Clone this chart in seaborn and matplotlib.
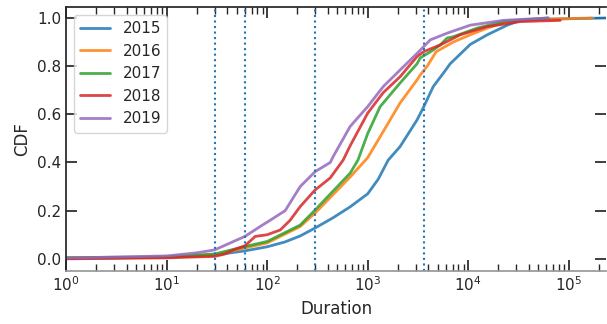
import numpy as np
import pandas as pd
import seaborn as sns
import matplotlib.pyplot as plt
from matplotlib.ticker import LogLocator, NullFormatter

# CDF points (duration, cumulative fraction)
years = ['2015', '2016', '2017', '2018', '2019']

dur_2015 = [1, 3, 10, 20, 30, 60, 100, 150, 213, 300, 450, 670, 1000, 1270, 1600, 2100,
            3100, 3600, 4485, 5640, 6620, 10470, 15450, 24400, 32900, 62500, 241000]
cdf_2015 = [0.002, 0.004, 0.007, 0.012, 0.016, 0.033, 0.05, 0.07, 0.095, 0.128, 0.17, 0.216,
            0.27, 0.33, 0.41, 0.466, 0.577, 0.63, 0.715, 0.77, 0.81, 0.89, 0.93, 0.97, 0.99,
            0.995, 1.0]

dur_2016 = [1, 10, 30, 60, 100, 213, 300, 670, 1000, 1330, 2100, 3100, 3330, 3910, 4800,
            7100, 10470, 15450, 24400, 60000, 171000]
cdf_2016 = [0.003, 0.006, 0.015, 0.045, 0.066, 0.134, 0.19, 0.34, 0.42, 0.507, 0.647, 0.743,
            0.763, 0.8, 0.86, 0.9, 0.93, 0.958, 0.985, 0.995, 1.0]

dur_2017 = [1, 10, 20, 30, 60, 100, 213, 300, 670, 800, 1000, 1330, 2100, 3100, 3330, 4485,
            5265, 6180, 7100, 12300, 22300, 62500]
cdf_2017 = [0.005, 0.008, 0.016, 0.02, 0.051, 0.072, 0.14, 0.203, 0.356, 0.41, 0.52, 0.632,
            0.73, 0.81, 0.834, 0.867, 0.888, 0.917, 0.922, 0.958, 0.985, 1.0]

dur_2018 = [1, 10, 20, 30, 38, 46, 60, 76, 100, 135, 169, 213, 300, 424, 570, 670, 1000,
            1427, 2100, 3100, 3600, 5265, 8320, 15450, 32900, 82300]
cdf_2018 = [0.0, 0.004, 0.008, 0.01, 0.02, 0.037, 0.054, 0.093, 0.1, 0.12, 0.16, 0.217, 0.286,
            0.336, 0.41, 0.47, 0.605, 0.69, 0.756, 0.84, 0.86, 0.888, 0.93, 0.964, 0.985, 0.99]

dur_2019 = [1, 10, 20, 30, 60, 85, 107, 151, 213, 300, 424, 454, 670, 1000, 1427, 2100, 3100,
            3910, 4190, 6180, 10470, 22300, 62500]
cdf_2019 = [0.003, 0.012, 0.025, 0.037, 0.093, 0.134, 0.16, 0.2, 0.3, 0.362, 0.4, 0.425, 0.55,
            0.632, 0.715, 0.784, 0.853, 0.896, 0.909, 0.937, 0.97, 0.99, 1.0]

thresholds = [30, 60, 300, 3600]

durations = [dur_2015, dur_2016, dur_2017, dur_2018, dur_2019]
cdfs = [cdf_2015, cdf_2016, cdf_2017, cdf_2018, cdf_2019]
df = pd.concat([pd.DataFrame({'Duration': d, 'CDF': c, 'year': y})
                for d, c, y in zip(durations, cdfs, years)], ignore_index=True)

sns.set_theme(style='ticks', context='notebook')
plt.rcParams['font.family'] = ['DejaVu Sans']

fig, ax = plt.subplots(figsize=(6.07, 3.24), dpi=100)
fig.subplots_adjust(left=0.109, right=0.999, top=0.978, bottom=0.164)

sns.lineplot(data=df, x='Duration', y='CDF', hue='year', hue_order=years,
             palette=sns.color_palette('tab10', 5), linewidth=2, alpha=0.85,
             estimator=None, ax=ax)

for t in thresholds:
    ax.axvline(t, color='tab:blue', linestyle=':', linewidth=1.5)

ax.set_xscale('log')
ax.set_xlim(1, 2.37e5)
ax.set_ylim(-0.05, 1.045)
ax.set_yticks([0.0, 0.2, 0.4, 0.6, 0.8, 1.0])
ax.xaxis.set_minor_locator(LogLocator(base=10, subs=np.arange(2, 10), numticks=20))
ax.xaxis.set_minor_formatter(NullFormatter())
ax.set_xlabel('Duration')
ax.set_ylabel('CDF')

ax.tick_params(which='both', direction='in', top=True, right=True)
ax.tick_params(which='major', length=8, width=1.25)
ax.tick_params(which='minor', length=5, width=1)
ax.spines['right'].set_visible(False)
ax.spines['bottom'].set_color('0.6')

leg = ax.get_legend()
handles = leg.legend_handles
labels = [t.get_text() for t in leg.texts]
ax.legend(handles, labels, loc='upper left')

plt.savefig('out.png', dpi=100)
